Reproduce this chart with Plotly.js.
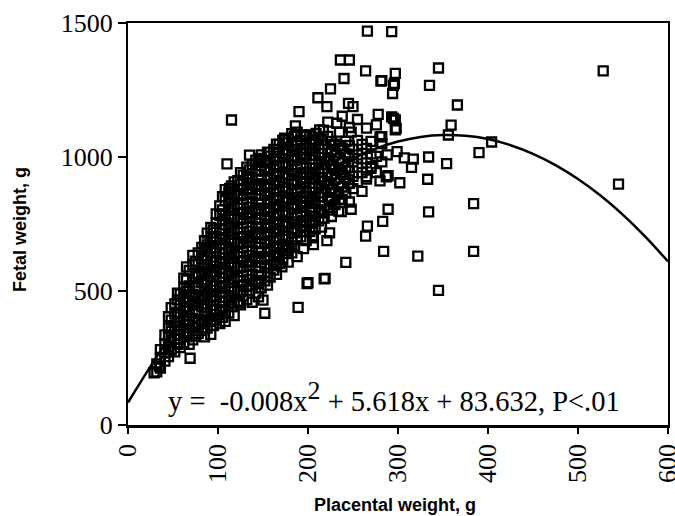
<!DOCTYPE html>
<html>
<head>
<meta charset="utf-8">
<script src="https://cdn.plot.ly/plotly-3.0.1.min.js"></script>
<style>html,body{margin:0;padding:0;background:#fff;}#chart{width:675px;height:516px;}</style>
</head>
<body>
<div id="chart"></div>
<script>
// Dense cloud, read column by column (placental weight, g -> fetal weights, g)
const cloudColX = [32,36,41,45,48,52,55,58,62,65,68,72,75,78,82,85,88,92,95,98,102,105,108,112,115,118,122,125,128,132,135,138,142,145,148,152,155,158,162,165,168,172,175,178,182,185,188,192,195,198,202,205,208,212,215,218,222,226,230,234,238,242,246,250,255,260,265,270,276,282,288];
const cloudColY = [
 [198,228],[212,252,281],[238,268,302,336],[255,292,328,362,404],[281,312,349,391,438],
 [273,322,368,414,452],[301,338,384,421,467,492],[289,320,358,403,446,488],[307,348,393,428,472,512,548],
 [329,372,409,458,498,541,590],[301,343,386,432,477,519,577],[318,362,398,447,488,533,598,633],
 [332,373,421,462,512,553,611],[341,383,424,471,517,558,601,642],[352,392,441,483,532,573,622,663],
 [329,377,418,467,508,557,598,647,688],[362,404,452,493,542,583,632,672,716],
 [338,387,428,477,518,567,608,657,698,737],[371,413,462,503,552,593,642,683,728],
 [392,433,482,523,572,613,662,703,752,788],[378,422,463,512,553,602,643,692,733,782,818],
 [402,443,492,533,582,623,672,713,762,803,852],[387,428,477,518,567,608,657,698,747,788,837,878],
 [418,467,508,557,598,647,688,737,778,827,868],[442,483,532,573,622,663,712,753,802,843,892],
 [408,457,498,547,588,637,678,727,768,817,858,907],[462,503,552,593,642,683,732,773,822,863,912],
 [448,497,538,587,628,677,718,767,808,857,898,942],[482,523,572,613,662,703,752,793,842,883,932],
 [468,517,558,607,648,697,738,787,828,877,918,962],[502,543,592,633,682,723,772,813,862,903,952],
 [458,522,563,612,653,702,743,792,833,882,923,972],[492,538,587,628,677,718,767,808,857,898,947,988],
 [478,532,573,622,663,712,753,802,843,892,933,982],[512,558,607,648,697,738,787,828,877,918,967,1008],
 [538,587,628,677,718,767,808,857,898,947,988],[522,568,617,658,707,748,797,838,887,928,977,1018],
 [552,598,647,688,737,778,827,868,917,958,1003],[578,627,668,717,758,807,848,897,938,987,1028],
 [562,608,657,698,747,788,837,878,927,968,1017,1048],[602,643,692,733,782,823,872,913,962,1003,1047],
 [618,667,708,757,798,847,888,937,978,1027,1063],[652,693,742,783,832,873,922,963,1012,1053],
 [608,662,703,752,793,842,883,932,973,1022,1068],[642,683,732,773,822,863,912,953,1002,1043,1087],
 [668,717,758,807,848,897,938,987,1028,1077],[628,692,733,782,823,872,913,962,1003,1052,1093],
 [702,743,792,833,882,923,972,1013,1062],[658,722,763,812,853,902,943,992,1033,1082],
 [688,742,783,832,873,922,963,1012,1053],[722,763,812,853,902,943,992,1033,1082],
 [698,752,793,842,883,932,973,1022,1063],[732,778,827,868,917,958,1007,1048],
 [762,803,852,893,942,983,1032,1073],[738,792,833,882,923,972,1013,1062],
 [772,818,867,908,957,998,1047],[802,848,897,938,987,1028,1077,1130],
 [778,837,878,927,968,1017,1058],[822,868,917,958,1007,1048],
 [798,862,903,952,993,1042],[842,888,942,983,1032,1152],
 [868,922,963,1012,1058],[832,902,948,1002,1043,1110],
 [882,928,982,1028],[908,962,1008,1062,1140],
 [872,942,993,1047],[927,978,1032],
 [958,1012,1058],[942,1002,1120],[982,1050],[1008]
];

// Scattered points outside the dense cloud
const outlierX = [266,293,236,246,264,240,281,296,297,294,225,211,190,186,115,110,528,545,345,335,366,359,356,404,390,354,334,333,334,384,384,322,345,284,289,283,302,289,280,317,307,315,299,295,293,297,297,282,282,270,265,266,264,242,224,221,206,206,219,199,248,237,235,224,213,202,152,150,189,171,176,166,124,69,29,35,135,146,157,153,209,132,113,221,245,250,278,295,298,174,197,213,232,287,145,200,218,217,235,248,265,280];
const outlierY = [1470,1468,1362,1362,1321,1293,1283,1275,1312,1237,1254,1221,1169,1116,1138,974,1321,899,1332,1267,1194,1119,1082,1056,1016,975,1000,917,795,826,648,630,502,648,805,760,904,930,911,992,997,961,1020,1267,1150,1138,1101,1076,1285,964,918,742,705,607,717,688,705,673,547,528,805,796,842,842,802,802,417,466,439,590,640,628,456,249,195,220,1007,995,1016,982,1088,926,883,1188,1200,1188,1159,1144,1107,1070,1076,1101,1126,926,529,531,545,1100,1093,1093,1108,1075];

// Fitted quadratic
const fitX = [0,25,50,75,100,125,150,175,200,225,250,275,300,325,350,375,400,425,450,475,500,525,550,575,600];
const fitY = [84,219,345,461,566,662,749,825,891,948,994,1031,1058,1075,1082,1079,1067,1044,1012,970,918,856,784,702,610];

const xTicks = [0,100,200,300,400,500,600];
const yTicks = [0,500,1000,1500];
const eqText = 'y =  -0.008x<sup><span style="font-size:130%">2</span></sup> + 5.618x + 83.632, P&lt;.01';

const ptsX = [], ptsY = [];
cloudColX.forEach((x, i) => cloudColY[i].forEach(y => { ptsX.push(x); ptsY.push(y); }));
outlierX.forEach((x, i) => { ptsX.push(x); ptsY.push(outlierY[i]); });

const serif = '"Liberation Serif","Times New Roman",Times,serif';
const sans = '"Liberation Sans",Arial,Helvetica,sans-serif';

const traces = [
  {x: ptsX, y: ptsY, type: 'scatter', mode: 'markers',
   marker: {symbol: 'square-open', size: 9, color: '#000', line: {width: 2.3, color: '#000'}},
   hoverinfo: 'x+y', showlegend: false},
  {x: fitX, y: fitY, type: 'scatter', mode: 'lines',
   line: {color: '#000', width: 2.5, shape: 'spline'}, showlegend: false}
];

const layout = {
  width: 675, height: 516,
  margin: {l: 128, r: 7, t: 23, b: 91},
  paper_bgcolor: '#fff', plot_bgcolor: '#fff',
  showlegend: false,
  xaxis: {range: [0, 600], tickvals: xTicks, ticktext: xTicks.map(String),
    ticks: 'outside', ticklen: 6, tickwidth: 2, tickcolor: '#000',
    showline: true, linewidth: 2.5, linecolor: '#000', mirror: true,
    showgrid: false, zeroline: false, tickangle: -90, ticklabeloverflow: 'allow',
    tickfont: {family: serif, size: 26, color: '#000'}},
  yaxis: {range: [0, 1500], tickvals: yTicks, ticktext: yTicks.map(String),
    ticks: 'outside', ticklen: 8, tickwidth: 2, tickcolor: '#000',
    showline: true, linewidth: 2, linecolor: '#000', mirror: true,
    showgrid: false, zeroline: false, ticklabeloverflow: 'allow',
    tickfont: {family: serif, size: 26, color: '#000'}},
  annotations: [
    {text: eqText, x: 296, y: 106, xref: 'x', yref: 'y', showarrow: false,
     xanchor: 'center', yanchor: 'middle', font: {family: serif, size: 28.5, color: '#000'}},
    {text: '<b>Placental weight, g</b>', x: 0.494, y: -0.199, xref: 'paper', yref: 'paper',
     showarrow: false, xanchor: 'center', yanchor: 'middle', font: {family: sans, size: 18, color: '#000'}},
    {text: '<b>Fetal weight, g</b>', x: -0.2, y: 0.485, xref: 'paper', yref: 'paper', textangle: -90,
     showarrow: false, xanchor: 'center', yanchor: 'middle', font: {family: sans, size: 18, color: '#000'}}
  ]
};

Plotly.newPlot('chart', traces, layout, {staticPlot: true});
</script>
</body>
</html>
